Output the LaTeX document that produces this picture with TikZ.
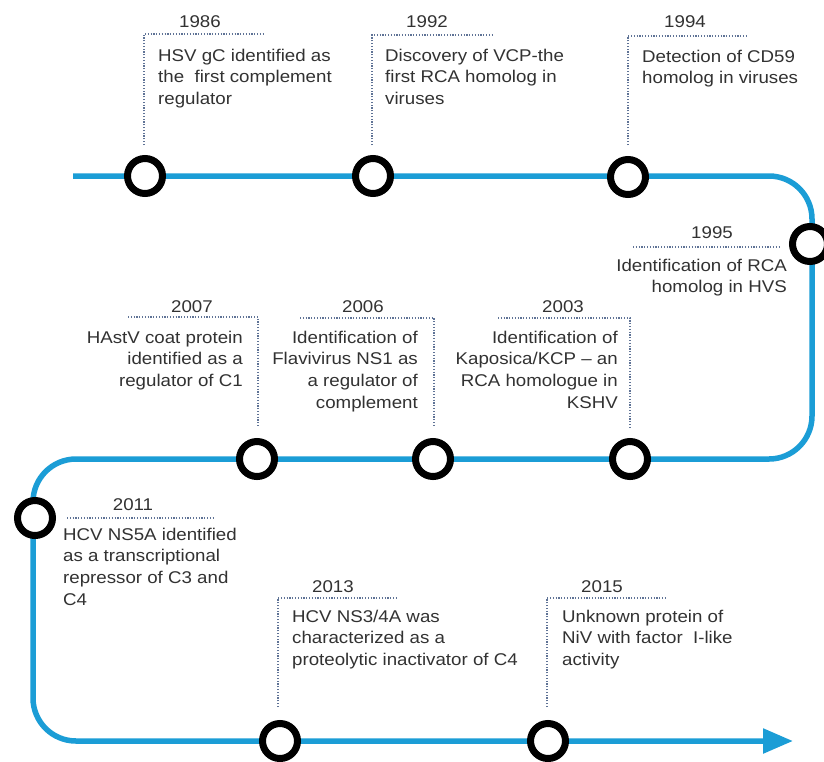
\documentclass[tikz,border=0pt]{standalone}
\usepackage{fontspec}
\setmainfont{Liberation Sans}[FakeStretch=1.1]
\usetikzlibrary{arrows.meta}
\definecolor{tlblue}{RGB}{27,157,214}
\definecolor{leadc}{RGB}{95,115,150}
\definecolor{txtc}{RGB}{50,50,50}
\begin{document}
\begin{tikzpicture}[x=1pt,y=-1pt,
  tline/.style={draw=tlblue,line width=5.5pt,rounded corners=43pt},
  evt/.style={circle,draw=black,fill=white,line width=7pt,minimum size=35pt,inner sep=0pt},
  leader/.style={draw=leadc,line width=1.4pt,dash pattern=on 1.2pt off 1.6pt},
  yr/.style={font=\fontsize{17}{21.7}\selectfont,text=txtc,inner sep=0pt,anchor=base},
  descl/.style={font=\fontsize{17}{21.7}\selectfont,text=txtc,inner sep=0pt,anchor=north west,align=left},
  descr/.style={font=\fontsize{17}{21.7}\selectfont,text=txtc,inner sep=0pt,anchor=north east,align=right}]
\useasboundingbox[fill=white] (0,0) rectangle (824,761);

% timeline
\coordinate (ts) at (73,176);
\coordinate (k1) at (812,176);
\coordinate (k2) at (812,459);
\coordinate (k3) at (33,459);
\coordinate (k4) at (33,741);
\coordinate (te) at (793,741);
\draw[tline,-{Triangle[length=30pt,width=24pt]}] (ts) -- (k1) -- (k2) -- (k3) -- (k4) -- (te);

% event circles
\node[evt] (c1986) at (145,176) {};
\node[evt] (c1992) at (373,176) {};
\node[evt] (c1994) at (628,177) {};
\node[evt] (c1995) at (810,244) {};
\node[evt] (c2003) at (630,459) {};
\node[evt] (c2006) at (433,459) {};
\node[evt] (c2007) at (257,459) {};
\node[evt] (c2011) at (35,518) {};
\node[evt] (c2013) at (280,741) {};
\node[evt] (c2015) at (548,741) {};

% leaders
\coordinate (a1) at (144,145); \coordinate (a2) at (144,34); \coordinate (a3) at (263,34);
\draw[leader] (a1) -- (a2) -- (a3);
\coordinate (b1) at (372,145); \coordinate (b2) at (372,35); \coordinate (b3) at (493,35);
\draw[leader] (b1) -- (b2) -- (b3);
\coordinate (e1) at (628,145); \coordinate (e2) at (628,36); \coordinate (e3) at (747,36);
\draw[leader] (e1) -- (e2) -- (e3);
\coordinate (f1) at (633,247); \coordinate (f2) at (780,247);
\draw[leader] (f1) -- (f2);
\coordinate (g1) at (128,317); \coordinate (g2) at (258,317); \coordinate (g3) at (258,427);
\draw[leader] (g1) -- (g2) -- (g3);
\coordinate (h1) at (300,318); \coordinate (h2) at (434,318); \coordinate (h3) at (434,427);
\draw[leader] (h1) -- (h2) -- (h3);
\coordinate (i1) at (498,318); \coordinate (i2) at (630,318); \coordinate (i3) at (630,427);
\draw[leader] (i1) -- (i2) -- (i3);
\coordinate (j1) at (67,518); \coordinate (j2) at (213,518);
\draw[leader] (j1) -- (j2);
\coordinate (m1) at (278,707); \coordinate (m2) at (278,598); \coordinate (m3) at (397,598);
\draw[leader] (m1) -- (m2) -- (m3);
\coordinate (n1) at (547,707); \coordinate (n2) at (547,598); \coordinate (n3) at (667,598);
\draw[leader] (n1) -- (n2) -- (n3);

% years
\node[yr] (y1986) at (200,27) {1986};
\node[yr] (y1992) at (427,27) {1992};
\node[yr] (y1994) at (685,27) {1994};
\node[yr] (y1995) at (712,238) {1995};
\node[yr] (y2007) at (192,312) {2007};
\node[yr] (y2006) at (363,312) {2006};
\node[yr] (y2003) at (563,312) {2003};
\node[yr] (y2011) at (133,510) {2011};
\node[yr] (y2013) at (333,592) {2013};
\node[yr] (y2015) at (602,592) {2015};

% descriptions
\node[descl] (t1986) at (158,48.7) {HSV gC identified as\\the\ \ first complement\\regulator};
\node[descl] (t1992) at (385,48.7) {Discovery of VCP-the\\first RCA homolog in\\viruses};
\node[descl] (t1994) at (642,49.7) {Detection of CD59\\homolog in viruses};
\node[descr] (t1995) at (787,258.7) {Identification of RCA\\homolog in HVS};
\node[descr] (t2007) at (243,330.7) {HAstV coat protein\\identified as a\\regulator of C1};
\node[descr] (t2006) at (418,330.7) {Identification of\\Flavivirus NS1 as\\a regulator of\\complement};
\node[descr] (t2003) at (618,330.7) {Identification of\\Kaposica/KCP – an\\RCA homologue in\\KSHV};
\node[descl] (t2011) at (63,527.7) {HCV NS5A identified\\as a transcriptional\\repressor of C3 and\\C4};
\node[descl] (t2013) at (292,609.7) {HCV NS3/4A was\\characterized as a\\proteolytic inactivator of C4};
\node[descl] (t2015) at (562,609.7) {Unknown protein of\\NiV with factor\ \ I-like\\activity};
\end{tikzpicture}
\end{document}
